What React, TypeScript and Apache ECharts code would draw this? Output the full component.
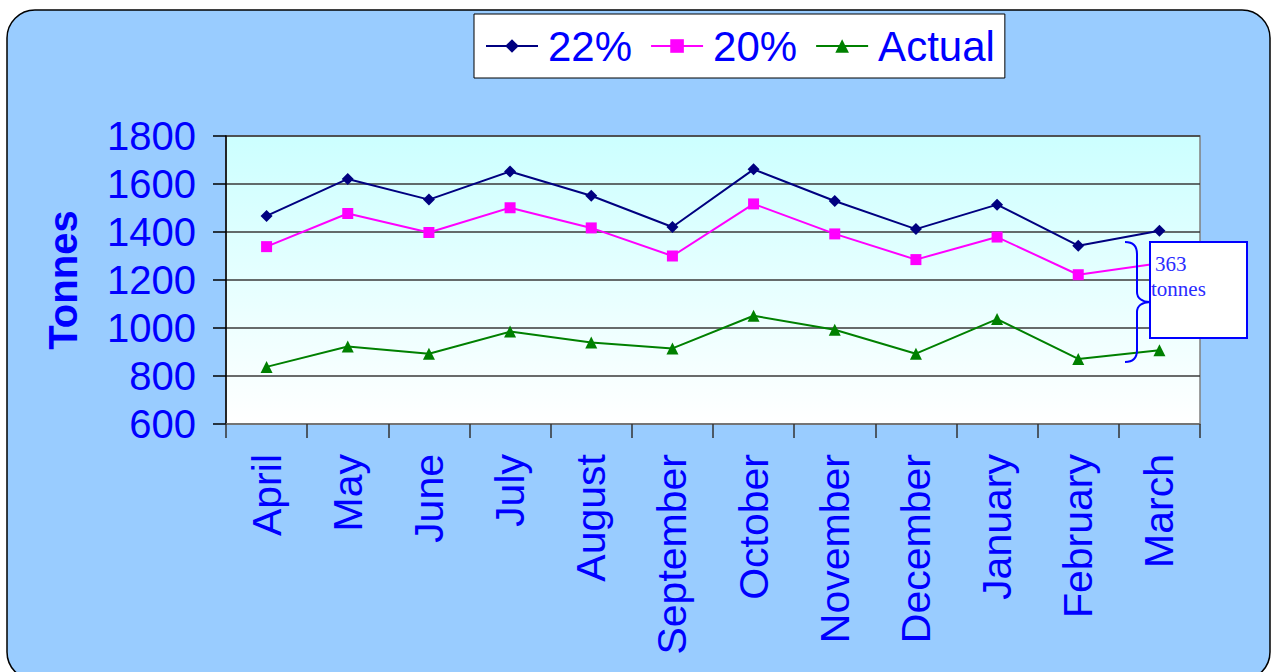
import React, { useEffect, useRef } from "react";
import * as echarts from "echarts";

const months = ["April", "May", "June", "July", "August", "September", "October", "November", "December", "January", "February", "March"];
const series22 = [1467, 1621, 1535, 1652, 1551, 1421, 1661, 1529, 1412, 1514, 1343, 1405];
const series20 = [1339, 1477, 1398, 1501, 1417, 1300, 1517, 1392, 1285, 1379, 1222, 1270];
const seriesActual = [838, 923, 893, 985, 940, 915, 1051, 993, 893, 1037, 871, 907];
const annotationLines = ["363", "tonnes"];

echarts.graphic.registerShape(
  "brace",
  echarts.graphic.extendPath(
    "M0 0 C8 0 12 4 12 12 L12 50 C12 56 17 60 25 60 C17 60 12 64 12 70 L12 108 C12 116 8 120 0 120",
    {}
  )
);

const BLUE = "#0000FF";
const FONT = "Liberation Sans, Arial, sans-serif";
const SERIF = "21px 'Liberation Serif', 'Times New Roman', serif";

export default function App() {
  const ref = useRef<HTMLDivElement>(null);
  useEffect(() => {
    if (!ref.current) return;
    const chart = echarts.init(ref.current, null, { renderer: "svg" });
    chart.setOption({
      animation: false,
      backgroundColor: "#FFFFFF",
      textStyle: { fontFamily: FONT },
      graphic: [
        {
          type: "rect",
          z: -100,
          silent: true,
          shape: { x: 7, y: 10, width: 1263, height: 670, r: 28 },
          style: { fill: "#99CCFF", stroke: "#000000", lineWidth: 1.5 },
        },
        {
          type: "brace",
          z: 100,
          x: 1125,
          y: 242,
          style: { stroke: BLUE, fill: "none", lineWidth: 2 },
        },
        {
          type: "rect",
          z: 100,
          shape: { x: 1150, y: 242, width: 97, height: 96 },
          style: { fill: "#FFFFFF", stroke: BLUE, lineWidth: 2 },
        },
        {
          type: "text",
          z: 101,
          x: 1155,
          y: 253,
          style: { text: annotationLines[0], fill: "#2B2BFF", font: SERIF },
        },
        {
          type: "text",
          z: 101,
          x: 1151,
          y: 278,
          style: { text: annotationLines[1], fill: "#2B2BFF", font: SERIF },
        },
      ],
      legend: {
        left: 474,
        top: 14,
        padding: [11, 10, 11, 11],
        backgroundColor: "#FFFFFF",
        borderColor: "#000000",
        borderWidth: 1,
        itemWidth: 52,
        itemHeight: 17,
        itemGap: 18,
        textStyle: { fontSize: 42, color: BLUE, fontFamily: FONT, padding: [0, 0, 0, 5] },
        data: ["22%", "20%", "Actual"],
      },
      grid: {
        left: 226,
        top: 136,
        width: 974,
        height: 288,
        show: true,
        borderColor: "#808080",
        borderWidth: 1.5,
        backgroundColor: new echarts.graphic.LinearGradient(0, 0, 0, 1, [
          { offset: 0, color: "#CCFFFF" },
          { offset: 1, color: "#FFFFFF" },
        ]),
      },
      xAxis: {
        type: "category",
        data: months,
        boundaryGap: true,
        axisLine: { show: true, lineStyle: { color: "#808080", width: 1.5 } },
        axisTick: { show: true, length: 14, lineStyle: { color: "#333333", width: 1.5 } },
        axisLabel: { rotate: 90, margin: 30, fontSize: 41, color: BLUE, fontFamily: FONT },
      },
      yAxis: {
        type: "value",
        min: 600,
        max: 1800,
        interval: 200,
        name: "Tonnes",
        nameLocation: "middle",
        nameGap: 143,
        nameTextStyle: { fontSize: 40, fontWeight: "bold", color: BLUE, fontFamily: FONT },
        axisLine: { show: true, lineStyle: { color: "#000000", width: 1.5 } },
        axisTick: { show: true, length: 13, lineStyle: { color: "#000000", width: 1.5 } },
        axisLabel: { margin: 30, fontSize: 40, color: BLUE, fontFamily: FONT, formatter: (v: number) => String(v) },
        splitLine: { show: true, lineStyle: { color: "#3A3A3A", width: 1.5 } },
      },
      series: [
        {
          name: "22%",
          type: "line",
          data: series22,
          symbol: "diamond",
          symbolSize: 12,
          lineStyle: { color: "#000080", width: 2 },
          itemStyle: { color: "#000080" },
        },
        {
          name: "20%",
          type: "line",
          data: series20,
          symbol: "rect",
          symbolSize: 11,
          lineStyle: { color: "#FF00FF", width: 2 },
          itemStyle: { color: "#FF00FF" },
        },
        {
          name: "Actual",
          type: "line",
          data: seriesActual,
          symbol: "triangle",
          symbolSize: 12,
          lineStyle: { color: "#008000", width: 2 },
          itemStyle: { color: "#008000" },
        },
      ],
    });
    return () => chart.dispose();
  }, []);
  return <div ref={ref} style={{ position: "absolute", left: 0, top: 0, width: 1277, height: 672 }} />;
}
